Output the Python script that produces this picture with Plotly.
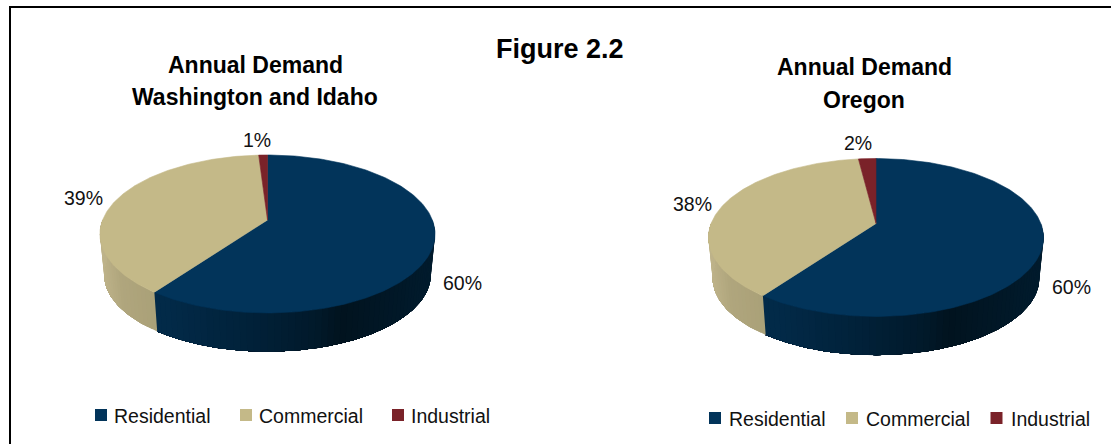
import numpy as np
import plotly.graph_objects as go

# ---- data ----
categories = ["Residential", "Commercial", "Industrial"]
wa_id_values = [60, 39, 1]
oregon_values = [60, 38, 2]
wa_id_title = ["Annual Demand", "Washington and Idaho"]
oregon_title = ["Annual Demand", "Oregon"]
figure_title = "Figure 2.2"

# ---- styles ----
colors = ["#02345A", "#C4B988", "#7A2229"]
SANS = "Liberation Sans, Arial, sans-serif"
TEXT = "#111111"
LABEL_SIZE = 19.5

# wall shading stops, as fraction across the pie width -> colour
wall_stops = {
    0: [(0.00, (2, 44, 76)), (0.20, (2, 42, 72)), (0.45, (1, 33, 57)),
        (0.65, (1, 25, 42)), (0.72, (1, 19, 31)), (1.00, (1, 27, 45))],
    1: [(0.00, (190, 179, 138)), (0.06, (176, 166, 125)), (0.32, (160, 152, 113)), (1.00, (160, 152, 113))],
    2: [(0.00, (100, 28, 34)), (1.00, (100, 28, 34))],
}

# ---- perspective pie geometry ----
A_RX, K, B_RY = 164.9, 0.177, 76.5
WALL_DEPTH, WALL_SCALE = 41.0, 0.975
HALF_W = 167.5


def project(theta_deg, tip_x, tip_y):
    t = np.radians(theta_deg)
    u, v = np.sin(t), np.cos(t)
    d = 1 + K * v
    return tip_x + A_RX * u / d, tip_y - B_RY * v / d


def bottom(theta_deg, tip_x, tip_y):
    x, y = project(theta_deg, tip_x, tip_y)
    return tip_x + (x - tip_x) * WALL_SCALE, tip_y + (y - tip_y) * WALL_SCALE + WALL_DEPTH


def shade(idx, frac):
    stops = wall_stops[idx]
    frac = min(max(frac, 0), 1)
    for (f0, c0), (f1, c1) in zip(stops, stops[1:]):
        if frac <= f1:
            w = (frac - f0) / (f1 - f0)
            return "rgb(%d,%d,%d)" % tuple(round(a + (b - a) * w) for a, b in zip(c0, c1))
    return "rgb(%d,%d,%d)" % stops[-1][1]


fig = go.Figure()


def add_poly(xs, ys, color, name, width=0.6):
    fig.add_trace(go.Scatter(
        x=list(xs), y=list(ys), mode="lines", fill="toself", fillcolor=color,
        line=dict(color=color, width=width), showlegend=False, hoverinfo="skip", name=name))


def add_pie(values, tip_x, tip_y):
    total = sum(values)
    edges = np.cumsum([0] + values) / total * 360
    front0, front1 = 90.0, 270.0
    # side walls: painted so each band runs on to the slice end, so no seams appear
    for i, cat in enumerate(categories):
        a0, a1 = max(edges[i], front0), min(edges[i + 1], front1)
        if a1 <= a0:
            continue
        n = max(int((a1 - a0) / 2.0), 1)
        starts = np.linspace(a0, a1, n + 1)[:-1]
        for s in starts:
            th = np.linspace(s, a1, max(int(a1 - s), 2) + 1)
            x, y = project(th, tip_x, tip_y)
            bx, by = bottom(th, tip_x, tip_y)
            mid_x = project(s + (a1 - a0) / n / 2, tip_x, tip_y)[0]
            frac = (mid_x - (tip_x - HALF_W)) / (2 * HALF_W)
            add_poly([*x, *bx[::-1], x[0]], [*y, *by[::-1], y[0]], shade(i, frac), cat + " side", width=0)
    # top face
    for i, cat in enumerate(categories):
        th = np.linspace(edges[i], edges[i + 1], max(int(edges[i + 1] - edges[i]), 4) + 1)
        x, y = project(th, tip_x, tip_y)
        add_poly([tip_x, *x, tip_x], [tip_y, *y, tip_y], colors[i], cat)


add_pie(wa_id_values, 267.5, 220.0)
add_pie(oregon_values, 876.0, 223.5)


def add_text(x, y, text, size, bold=False, anchor="center"):
    fig.add_annotation(
        x=x, y=y, xref="x", yref="y", text=f"<b>{text}</b>" if bold else text, showarrow=False,
        xanchor=anchor, yanchor="middle", borderpad=0,
        font=dict(family=SANS, size=size, color=TEXT if not bold else "#000000"))


# value labels
for val, (x, y) in zip(wa_id_values, [(462, 283), (83, 198), (257, 140)]):
    add_text(x, y, f"{val}%", LABEL_SIZE)
for val, (x, y) in zip(oregon_values, [(1071, 287), (692, 204), (858, 143)]):
    add_text(x, y, f"{val}%", LABEL_SIZE)

# titles
add_text(560, 49, figure_title, 27, bold=True)
for line, y in zip(wa_id_title, [65, 97]):
    add_text(255, y, line, 23, bold=True)
for line, y in zip(oregon_title, [67, 100]):
    add_text(864, y, line, 23, bold=True)

# legends
for marker_x, text_x, y in [([101, 246, 398], [113, 258, 410], 415),
                            ([715, 852, 996.5], [728, 865, 1010], 418)]:
    for cat, col, mx, tx in zip(categories, colors, marker_x, text_x):
        fig.add_trace(go.Scatter(
            x=[mx], y=[y], mode="markers", showlegend=False, hoverinfo="skip", name=cat,
            marker=dict(symbol="square", size=12, color=col, line=dict(width=0))))
        add_text(tx, y + 1, cat, LABEL_SIZE, anchor="left")

# frame: top and left rules
fig.add_shape(type="line", x0=10, x1=10, y0=7, y1=444, xref="x", yref="y",
              line=dict(color="black", width=2))
fig.add_shape(type="line", x0=9, x1=1111, y0=7, y1=7, xref="x", yref="y",
              line=dict(color="black", width=2))

fig.update_layout(
    width=1111, height=444, margin=dict(l=0, r=0, t=0, b=0),
    paper_bgcolor="white", plot_bgcolor="white", showlegend=False,
    xaxis=dict(range=[0, 1111], visible=False, fixedrange=True),
    yaxis=dict(range=[444, 0], visible=False, fixedrange=True),
)
fig.write_html("out.html", config={"displayModeBar": False},
               post_script="document.body.style.margin='0';document.body.style.overflow='hidden';")
